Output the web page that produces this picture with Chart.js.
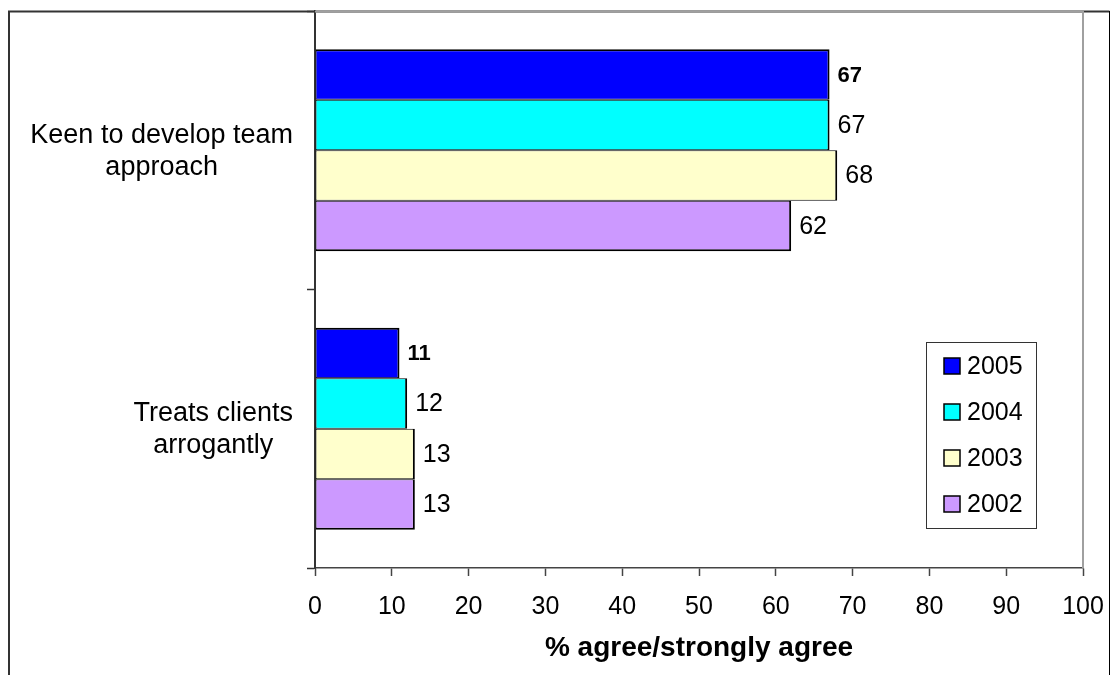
<!DOCTYPE html>
<html>
<head>
<meta charset="utf-8">
<title>Team approach</title>
<script src="https://cdn.jsdelivr.net/npm/chart.js@4/dist/chart.umd.min.js"></script>
<style>
  html, body { margin:0; padding:0; background:#fff; }
  #wrap { position:relative; width:1110px; height:675px; }
</style>
</head>
<body>
<div id="wrap"><canvas id="chart" width="1110" height="675"></canvas></div>
<script>
// --- Data ---
const categories = [['Keen to develop team', 'approach'], ['Treats clients', 'arrogantly']];
const years = ['2005', '2004', '2003', '2002'];
const values2005 = [67, 11];
const values2004 = [67, 12];
const values2003 = [68, 13];
const values2002 = [62, 13];
const xMin = 0, xMax = 100, xStep = 10;
const axisTitle = '% agree/strongly agree';

// --- Styles ---
const FONT = '"Liberation Sans", Arial, sans-serif';
const fills = ['#0000ff', '#00ffff', '#ffffcc', '#cc99ff'];
const seriesValues = [values2005, values2004, values2003, values2002];

// outer frame + grey plot border (top/right)
const framePlugin = {
  id: 'frame',
  beforeDraw(chart){
    const { ctx } = chart;
    ctx.save();
    ctx.fillStyle = '#fff';
    ctx.fillRect(0, 0, chart.width, chart.height);
    ctx.strokeStyle = '#333'; ctx.lineWidth = 2;
    ctx.beginPath();
    ctx.moveTo(9, chart.height); ctx.lineTo(9, 11.5); ctx.lineTo(1109.5, 11.5);
    ctx.stroke();
    ctx.strokeStyle = '#000'; ctx.lineWidth = 1;
    ctx.beginPath(); ctx.moveTo(1109.5, 11); ctx.lineTo(1109.5, chart.height); ctx.stroke();
    ctx.restore();
  },
  afterDraw(chart){
    const { ctx, chartArea:a } = chart;
    ctx.save();
    ctx.strokeStyle = '#a0a0a0'; ctx.lineWidth = 2;
    ctx.beginPath();
    ctx.moveTo(a.left, a.top + 0.5); ctx.lineTo(a.right, a.top + 0.5); ctx.lineTo(a.right, a.bottom);
    ctx.stroke();
    ctx.restore();
  }
};

// value labels to the right of each bar
const valueLabels = {
  id: 'valueLabels',
  afterDatasetsDraw(chart){
    const { ctx } = chart;
    ctx.save();
    ctx.fillStyle = '#000';
    ctx.textAlign = 'left';
    ctx.textBaseline = 'middle';
    chart.data.datasets.forEach((ds, i) => {
      ctx.font = i === 0 ? `bold 22px ${FONT}` : `25px ${FONT}`;
      chart.getDatasetMeta(i).data.forEach((bar, j) => {
        ctx.fillText(String(ds.data[j]), bar.x + 8, bar.y + 1);
      });
    });
    ctx.restore();
  }
};

// category names: each block centred on itself, blocks right-aligned against the axis
const categoryLabels = {
  id: 'categoryLabels',
  afterDraw(chart){
    const { ctx } = chart;
    const y = chart.scales.y;
    const lineH = 32, rightEdge = y.right - 22;
    ctx.save();
    ctx.font = `27px ${FONT}`;
    ctx.fillStyle = '#000';
    ctx.textAlign = 'center';
    ctx.textBaseline = 'middle';
    chart.data.labels.forEach((lines, i) => {
      const cy = y.getPixelForValue(i);
      const w = Math.max(...lines.map(l => ctx.measureText(l).width));
      const cx = rightEdge - w / 2;
      lines.forEach((l, k) => ctx.fillText(l, cx, cy + (k - (lines.length - 1) / 2) * lineH + 1));
    });
    ctx.restore();
  }
};

// boxed legend inside the plot area
const boxLegend = {
  id: 'boxLegend',
  afterDraw(chart){
    const { ctx, chartArea:a } = chart;
    const bx = a.right - 157, by = 342, bw = 110, bh = 186;
    const rowGap = 46, firstRow = by + 24;
    ctx.save();
    ctx.fillStyle = '#fff';
    ctx.fillRect(bx, by, bw, bh);
    ctx.strokeStyle = '#333'; ctx.lineWidth = 1;
    ctx.strokeRect(bx + 0.5, by + 0.5, bw, bh);
    ctx.font = `25px ${FONT}`;
    ctx.textAlign = 'left'; ctx.textBaseline = 'middle';
    chart.data.datasets.forEach((ds, i) => {
      const cy = firstRow + i * rowGap;
      ctx.fillStyle = ds.backgroundColor;
      ctx.fillRect(bx + 18, cy - 8, 16, 16);
      ctx.strokeStyle = '#000'; ctx.lineWidth = 1.5;
      ctx.strokeRect(bx + 18, cy - 8, 16, 16);
      ctx.fillStyle = '#000';
      ctx.fillText(ds.label, bx + 41, cy + 1);
    });
    ctx.restore();
  }
};

function edges(i){
  return { top: i === 0 ? 2 : 1, bottom: i === years.length - 1 ? 2 : 1, left: 1, right: 2 };
}

new Chart(document.getElementById('chart'), {
  type: 'bar',
  data: {
    labels: categories,
    datasets: years.map((y, i) => ({
      label: y,
      data: seriesValues[i],
      backgroundColor: fills[i],
      borderColor: '#000',
      borderWidth: edges(i),
      borderSkipped: false,
      barPercentage: 1,
      categoryPercentage: 0.725
    }))
  },
  options: {
    indexAxis: 'y',
    responsive: false,
    animation: false,
    layout: { padding: { top: 11, right: 27, left: 0, bottom: 0 } },
    plugins: { legend: { display:false }, tooltip: { enabled:false } },
    scales: {
      x: {
        min: xMin, max: xMax,
        ticks: { stepSize: xStep, color:'#000', padding: 16, font: { family: FONT, size: 25 } },
        grid: { drawOnChartArea:false, tickLength: 8, tickColor:'#444', tickWidth: 1.5 },
        border: { color:'#444', width: 1.5 },
        title: { display:true, text: axisTitle, color:'#000', padding: { top: 0, bottom: 10 },
                 font: { family: FONT, size: 28, weight: 'bold' } },
        afterFit(s){ s.height = 107; s.paddingLeft = 0; s.paddingRight = 0; }
      },
      y: {
        ticks: { display:false },
        grid: { drawOnChartArea:false, offset:true, tickLength: 8, tickColor:'#333', tickWidth: 1.5 },
        border: { color:'#333', width: 2 },
        afterFit(s){ s.width = 315; }
      }
    }
  },
  plugins: [framePlugin, valueLabels, categoryLabels, boxLegend]
});
</script>
</body>
</html>
